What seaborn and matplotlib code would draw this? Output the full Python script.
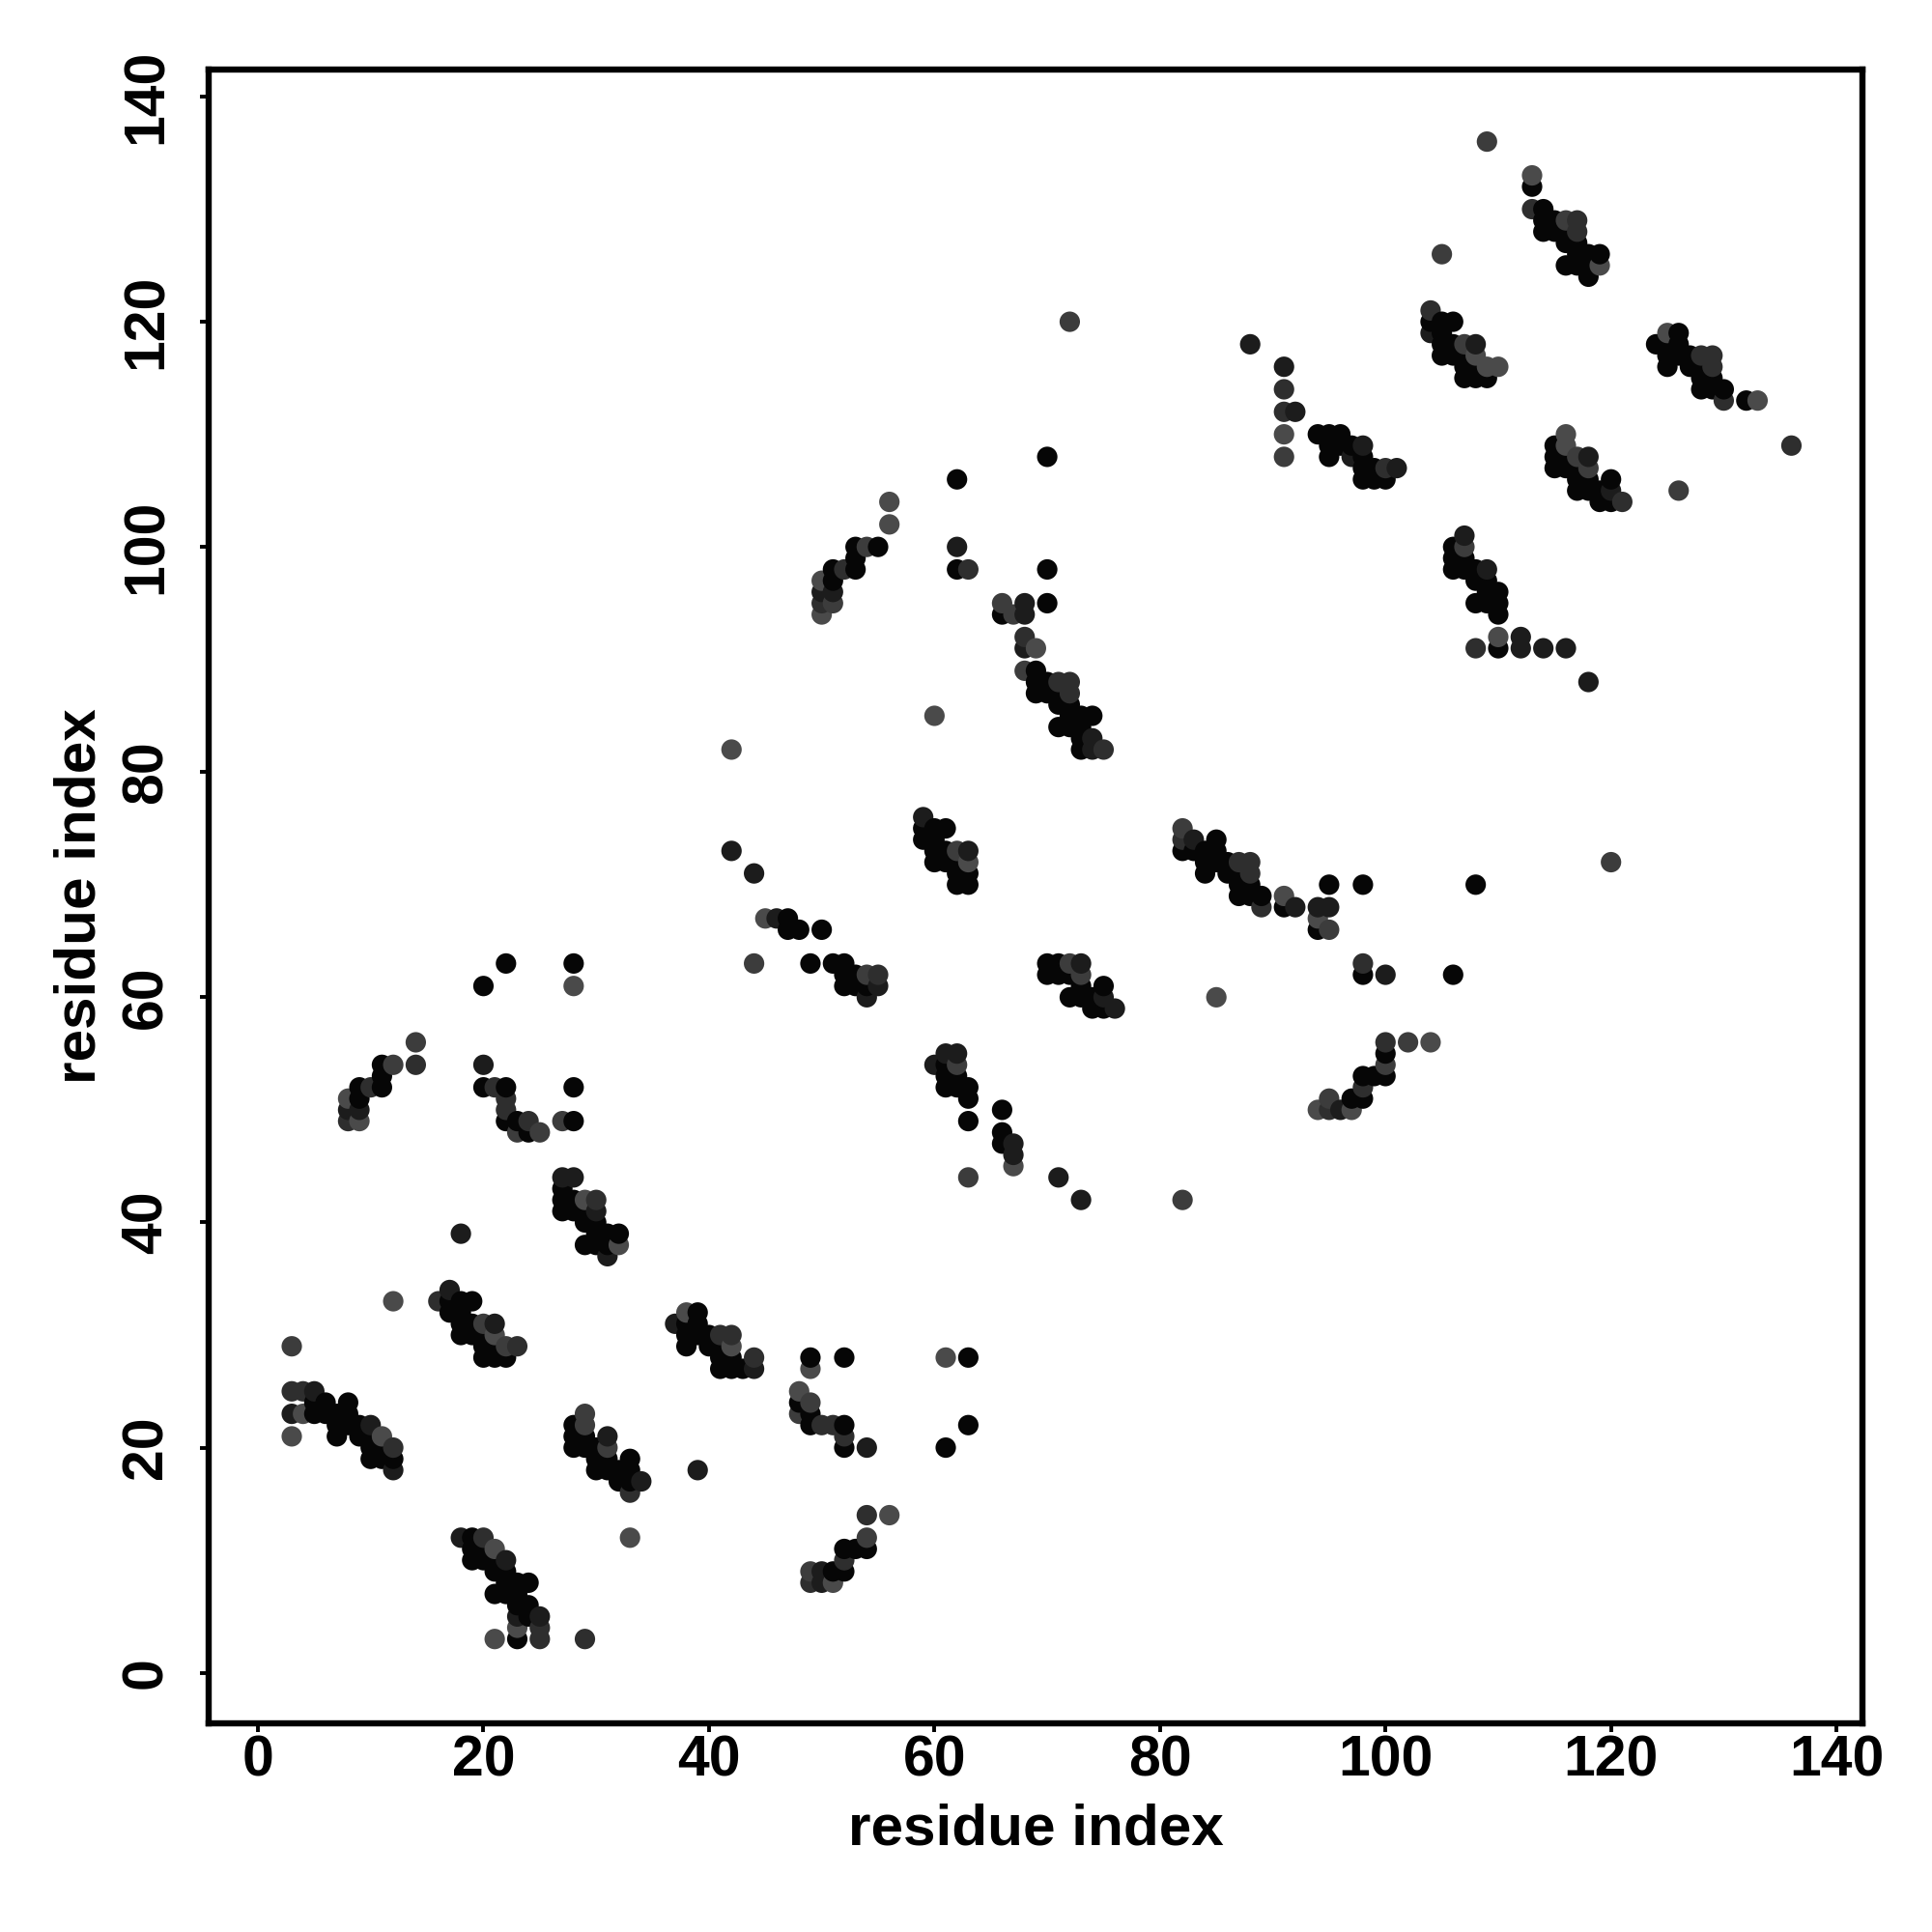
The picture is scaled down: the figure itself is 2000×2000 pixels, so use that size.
import pandas as pd
import matplotlib
matplotlib.use('Agg')
import matplotlib.pyplot as plt
import seaborn as sns

# contacts as (residue, residue), one list per grey level
dark_pts = [
    (6, 24), (8, 24), (5, 24), (5, 23), (6, 23), (7, 23), (8, 23), (7, 22), (8, 22), (9, 22),
    (7, 21), (9, 21), (10, 21), (10, 20), (11, 20), (10, 19), (11, 19), (12, 19),
    (19, 12), (19, 11), (20, 11), (19, 10), (20, 10), (21, 10), (21, 9), (22, 9), (22, 8),
    (23, 8), (24, 8), (21, 7), (22, 7), (23, 7), (23, 6), (24, 6), (24, 5), (23, 3),
    (28, 22), (28, 21), (29, 21), (28, 20), (29, 20), (30, 20), (30, 19), (31, 19), (33, 19),
    (30, 18), (31, 18), (32, 18), (33, 18), (32, 17), (33, 17),
    (11, 54), (11, 53), (11, 52), (9, 52), (9, 51), (20, 61), (22, 63), (28, 63),
    (20, 52), (22, 52), (22, 49), (23, 49), (24, 48), (28, 52), (28, 49),
    (27, 43), (27, 42), (28, 42), (27, 41), (28, 41), (29, 41), (29, 40), (30, 40),
    (30, 39), (31, 39), (32, 39), (29, 38), (30, 38), (31, 38),
    (18, 33), (19, 33), (17, 33), (17, 32), (18, 32), (18, 31), (19, 31), (18, 30), (19, 30),
    (20, 30), (20, 29), (21, 29), (20, 28), (21, 28), (22, 28),
    (39, 32), (38, 31), (39, 31), (38, 30), (39, 30), (40, 30), (38, 29), (40, 29), (41, 29),
    (41, 28), (42, 28), (41, 27), (42, 27), (43, 27),
    (49, 28), (52, 28), (63, 28), (48, 24), (49, 23), (49, 22), (52, 22), (52, 20), (63, 22), (61, 20),
    (52, 11), (53, 11), (54, 11), (51, 9), (52, 9),
    (47, 67), (47, 66), (48, 66), (50, 66), (49, 63), (51, 63), (52, 63), (52, 62), (53, 62),
    (52, 61), (53, 61), (54, 61),
    (59, 75), (60, 75), (61, 75), (59, 74), (60, 74), (60, 73), (61, 73), (60, 72), (61, 72), (62, 72),
    (62, 71), (63, 71), (62, 70), (63, 70),
    (70, 63), (71, 63), (70, 62), (71, 62), (72, 62), (73, 61), (75, 61), (72, 60), (73, 60),
    (74, 60), (74, 59), (75, 59),
    (61, 54), (61, 53), (62, 53), (61, 52), (62, 52), (63, 52), (63, 51), (63, 49),
    (66, 50), (66, 48), (66, 47),
    (70, 108), (62, 106), (55, 100), (53, 100), (53, 99), (53, 98), (51, 98), (51, 97),
    (62, 98), (70, 98), (70, 95), (66, 94), (69, 89), (69, 88), (70, 88), (69, 87), (70, 87), (71, 87),
    (71, 86), (72, 86), (72, 85), (73, 85), (74, 85), (71, 84), (72, 84), (73, 84), (73, 83), (73, 82),
    (82, 73), (83, 73), (84, 73), (85, 73), (85, 74), (84, 72), (85, 72), (86, 72), (84, 71), (86, 71),
    (87, 71), (87, 70), (88, 70), (95, 70), (98, 70), (108, 70), (87, 69), (88, 69), (89, 69),
    (91, 68), (94, 66), (98, 62), (106, 62), (100, 55), (98, 53), (99, 53), (100, 53), (97, 51), (98, 51),
    (91, 110), (94, 110), (95, 110), (96, 110), (95, 109), (96, 109), (97, 109), (95, 108), (98, 108),
    (98, 107), (99, 107), (98, 106), (99, 106), (100, 106),
    (104, 120), (105, 120), (106, 120), (105, 119), (105, 118), (106, 118), (105, 117), (106, 117),
    (107, 117), (107, 116), (108, 116), (107, 115), (108, 115), (109, 115),
    (113, 132), (114, 130), (114, 129), (115, 129), (114, 128), (115, 128), (116, 128), (116, 127),
    (117, 127), (117, 126), (118, 126), (119, 126), (116, 125), (117, 125), (118, 125), (118, 124),
    (124, 118), (126, 119), (125, 118), (126, 118), (125, 117), (126, 117), (127, 117), (125, 116),
    (127, 116), (128, 115), (129, 115), (128, 114), (129, 114), (130, 114), (128, 116), (132, 113),
    (115, 109), (115, 108), (116, 108), (115, 107), (116, 107), (117, 107), (117, 106), (118, 106),
    (120, 106), (117, 105), (118, 105), (119, 105), (119, 104), (120, 104),
    (106, 100), (106, 99), (107, 99), (106, 98), (107, 98), (108, 98), (108, 97), (109, 97),
    (109, 96), (110, 96), (108, 95), (109, 95), (110, 95), (110, 94), (110, 91),
]
darkmid_pts = [
    (5, 25), (3, 23), (10, 22), (12, 18), (18, 12), (22, 10), (23, 5), (25, 5), (31, 21), (34, 17),
    (39, 18), (8, 50), (9, 50), (20, 54), (18, 39), (27, 44), (28, 44), (30, 41), (31, 37), (17, 34),
    (21, 31), (37, 31), (44, 27), (50, 9), (50, 8), (54, 20), (42, 73), (44, 71),
    (46, 67), (55, 61), (54, 60), (59, 76), (63, 73), (73, 63), (75, 60), (76, 59), (61, 55), (62, 55),
    (60, 54), (67, 47), (67, 46), (71, 44), (73, 42), (62, 100), (50, 96), (51, 96), (68, 95), (68, 94),
    (68, 91), (74, 83), (74, 82), (83, 74), (92, 68), (94, 68), (95, 68), (100, 62), (96, 50),
    (88, 118), (91, 116), (92, 112), (97, 108), (101, 107), (98, 109), (104, 119), (108, 118),
    (118, 108), (120, 105), (107, 101), (109, 98), (112, 92), (112, 91), (114, 91), (116, 91), (118, 88),
]
mid_pts = [
    (3, 25), (4, 25), (12, 20), (20, 12), (25, 4), (25, 3), (29, 3), (33, 16), (14, 54), (10, 52), (8, 49),
    (21, 52), (22, 51), (22, 50), (24, 49), (30, 42), (16, 33), (23, 29), (41, 30), (42, 30), (44, 28),
    (52, 21), (50, 22), (51, 22), (52, 10), (49, 8), (54, 14), (55, 62), (72, 88), (71, 88), (72, 87),
    (52, 98), (50, 95), (63, 98), (68, 92), (75, 82), (82, 74), (88, 72), (87, 72), (88, 71), (89, 68),
    (98, 63), (100, 56), (98, 52), (95, 50), (91, 114), (91, 112), (100, 107), (104, 121), (113, 130),
    (117, 129), (117, 128), (128, 117), (129, 117), (129, 116), (130, 113), (136, 109), (121, 104),
    (108, 91),
]
lightmid_pts = [
    (3, 29), (14, 56), (12, 54), (23, 48), (25, 48), (27, 49), (20, 31), (22, 29), (29, 23),
    (29, 22), (31, 20), (49, 24), (48, 23), (54, 12), (49, 9), (44, 63), (54, 62), (62, 73),
    (72, 63), (73, 62), (62, 54), (63, 44), (54, 100), (51, 95), (66, 95), (67, 94), (68, 89), (72, 120),
    (82, 75), (91, 108), (95, 66), (120, 72), (82, 42), (102, 56), (100, 54), (95, 51), (107, 118),
    (105, 126), (107, 100), (109, 136), (116, 129), (117, 108), (118, 107), (126, 105),
]
light_pts = [
    (3, 21), (4, 23), (11, 21), (21, 11), (21, 3), (23, 4), (33, 12), (12, 33), (28, 61), (21, 30),
    (9, 49), (8, 51), (29, 42), (32, 38), (42, 82), (38, 32), (42, 29), (48, 25), (49, 27), (51, 8),
    (56, 14), (61, 28), (45, 67), (56, 104), (56, 102), (50, 94), (50, 97), (60, 85), (63, 72), (67, 45),
    (69, 91), (91, 110), (85, 60), (104, 56), (94, 50), (97, 50), (94, 67), (116, 109), (116, 110),
    (113, 133), (109, 116), (110, 116), (108, 117), (119, 125), (125, 119), (133, 113), (110, 92),
    (91, 69),
]
tick_values = [0, 20, 40, 60, 80, 100, 120, 140]

grey_levels = {'dark': '#060606', 'darkmid': '#1c1c1c', 'mid': '#2e2e2e',
               'lightmid': '#3c3c3c', 'light': '#4a4a4a'}

rows = []
for name, pts in [('dark', dark_pts), ('darkmid', darkmid_pts), ('mid', mid_pts),
                  ('lightmid', lightmid_pts), ('light', light_pts)]:
    for i, j in pts:
        rows.append({'i': i, 'j': j, 'shade': name})
df = pd.DataFrame(rows)
# the later one wins where a point got listed twice
df = df.drop_duplicates(subset=['i', 'j'], keep='last')
# original draws in residue order, so higher index sits on top
df = df.sort_values(['i', 'j']).reset_index(drop=True)

sns.set_theme(style='ticks')
plt.rcParams['font.family'] = ['Liberation Sans', 'DejaVu Sans']
plt.rcParams['font.weight'] = 'bold'

fig = plt.figure(figsize=(10, 10), dpi=200)
ax = fig.add_axes([216 / 2000, 1 - 1784 / 2000, (1928 - 216) / 2000, (1784 - 72) / 2000])

sns.scatterplot(data=df, x='i', y='j', hue='shade', palette=grey_levels, s=58,
                linewidth=0, alpha=1, legend=False, ax=ax)

ax.set_xlim(-4.37, 142.3)
ax.set_ylim(-4.49, 142.4)
ax.set_xticks(tick_values)
ax.set_yticks(tick_values)
ax.tick_params(axis='both', length=3.2, width=1.4, color='black', labelsize=21.2, labelcolor='black')
ax.tick_params(axis='x', pad=0.8)
ax.tick_params(axis='y', pad=10)
plt.setp(ax.get_yticklabels(), rotation=90, va='center', fontweight='bold')
plt.setp(ax.get_xticklabels(), fontweight='bold')

for side in ax.spines.values():
    side.set_linewidth(2.3)
    side.set_color('black')

ax.set_xlabel('residue index', fontsize=21.7, fontweight='bold', color='black', labelpad=6)
ax.set_ylabel('residue index', fontsize=21.7, fontweight='bold', color='black', labelpad=5)

fig.savefig('out.png', dpi=200, facecolor='white')
